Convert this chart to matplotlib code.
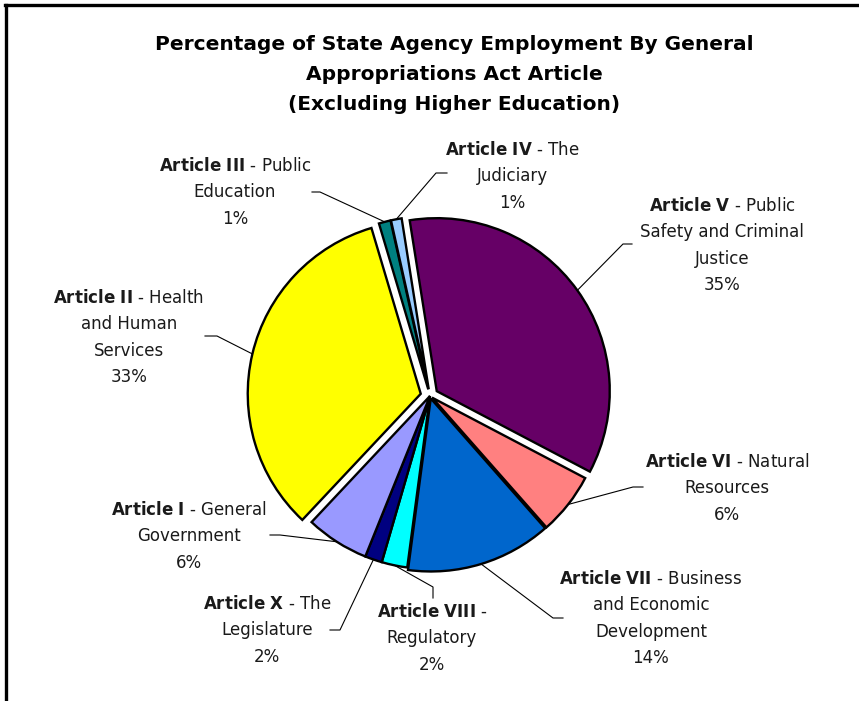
import numpy as np
import matplotlib
matplotlib.use('Agg')
import matplotlib.pyplot as plt
from matplotlib.lines import Line2D

# data, clockwise from the top of the pie
articles = ['Article V', 'Article VI', 'Article VII', 'Article VIII', 'Article X',
            'Article I', 'Article II', 'Article III', 'Article IV']
names = ['Public\nSafety and Criminal\nJustice', 'Natural\nResources',
         'Business\nand Economic\nDevelopment', '\nRegulatory', 'The\nLegislature',
         'General\nGovernment', 'Health\nand Human\nServices', 'Public\nEducation',
         'The\nJudiciary']
shares = [35.2, 5.8, 13.6, 2.4, 1.6, 5.9, 33.4, 1.1, 1.0]
colors = ['#660066', '#FF8080', '#0066CC', '#00FFFF', '#000080',
          '#9999FF', '#FFFF00', '#008080', '#99CCFF']
explode_frac = [0.048, 0.015, 0.015, 0.0, 0.0, 0.0, 0.055, 0.04, 0.04]

W, H = 859, 701


def fy(y):
    # image rows (top down) -> axes y (bottom up)
    return H - y


# label layout: centre of first line, leader elbow, leader end at the text
label_pos = [(722, 205), (727, 461), (651, 578), (432, 611), (267, 603),
             (189, 509), (129, 297), (235, 165), (512, 149)]
elbows = [(623, 244), (633, 487), (553, 618), (433, 587), (340, 630),
          (280, 535), (217, 336), (320, 192), (436, 173)]
ends = [(632, 244), (643, 487), (563, 618), (433, 598), (330, 630),
        (270, 535), (205, 336), (312, 192), (447, 173)]

cx, cy, radius = 430, 396, 173

fig = plt.figure(figsize=(W / 100, H / 100), dpi=100)
ax = fig.add_axes([0, 0, 1, 1])

# matplotlib's explode is in data units, so scale by the radius
wedges, _ = ax.pie(shares, explode=[e * radius for e in explode_frac],
                   colors=colors, startangle=99, counterclock=False,
                   radius=radius, center=(cx, fy(cy)),
                   wedgeprops=dict(edgecolor='black', linewidth=1.7))

ax.set_xlim(0, W)
ax.set_ylim(0, H)
ax.set_aspect('equal')
ax.axis('off')

step = 26.3
for i, w in enumerate(wedges):
    mid = np.deg2rad((w.theta1 + w.theta2) / 2)
    wx, wy = w.center
    px = wx + w.r * np.cos(mid)
    py = wy + w.r * np.sin(mid)
    ex, ey = elbows[i]
    hx, hy = ends[i]
    ax.plot([px, ex, hx], [py, fy(ey), fy(hy)], color='black', lw=0.8)

    lines = names[i].split('\n')
    pct = f'{round(shares[i]):d}%'
    bold = r'$\mathbf{' + articles[i].replace(' ', r'\ ') + '}$'
    first = bold + ' - ' + lines[0] if lines[0] else bold + ' -'
    all_lines = [first] + lines[1:] + [pct]
    tx, ty = label_pos[i]
    for k, s in enumerate(all_lines):
        ax.text(tx, fy(ty + k * step + 6), s, ha='center', va='baseline',
                fontsize=12, color='#1a1a1a')

title = ['Percentage of State Agency Employment By General',
         'Appropriations Act Article',
         '(Excluding Higher Education)']
for k, s in enumerate(title):
    ax.text(454, fy(44 + k * 30), s, ha='center', va='center',
            fontsize=14.5, fontweight='bold')

# frame on the left and top only
fig.add_artist(Line2D([6 / W, 6 / W], [0, 1 - 5 / H], color='black', lw=2.4,
                      transform=fig.transFigure))
fig.add_artist(Line2D([5 / W, 858 / W], [1 - 5 / H, 1 - 5 / H], color='black',
                      lw=2.4, transform=fig.transFigure))

fig.savefig('out.png', dpi=100)
